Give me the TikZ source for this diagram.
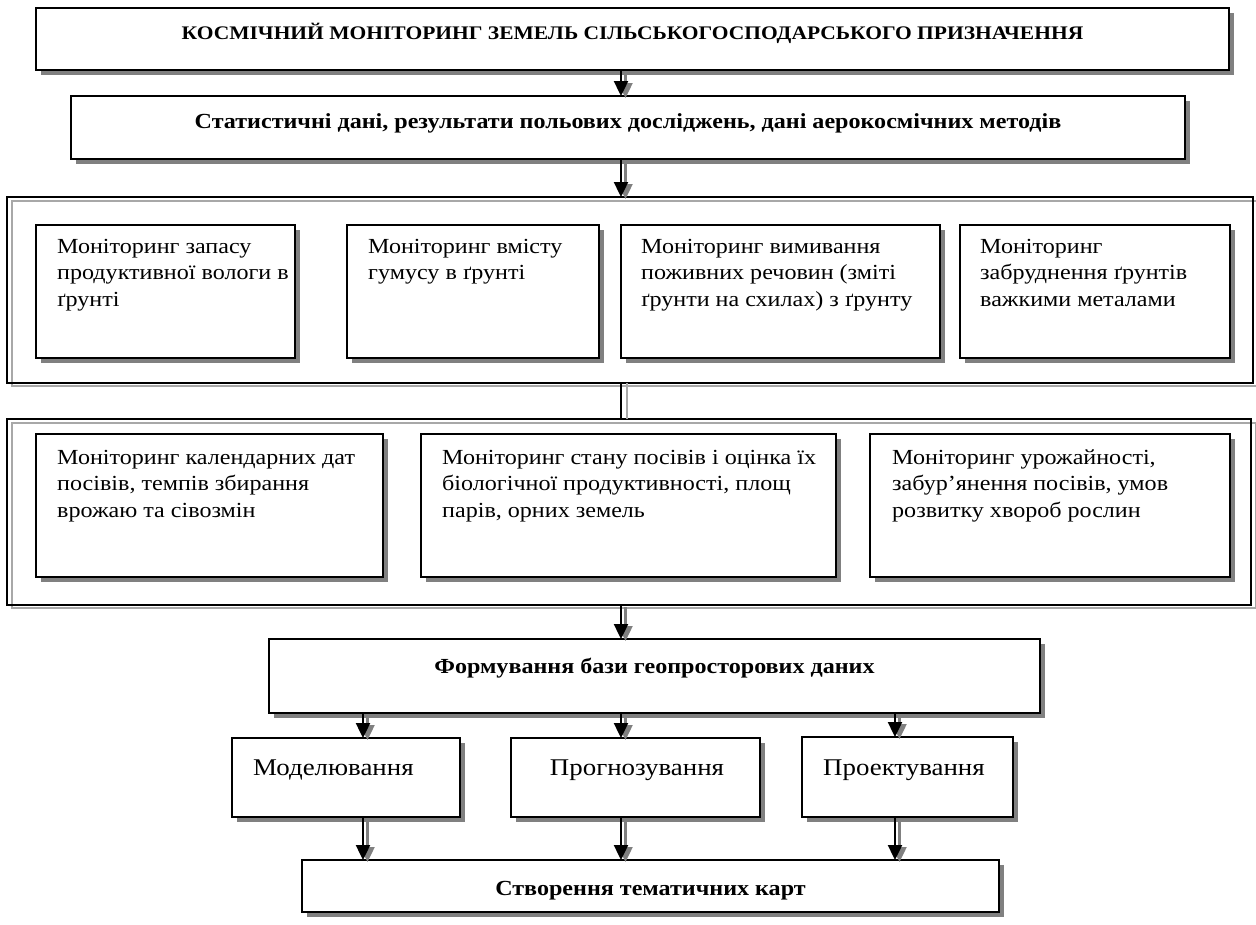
\documentclass[tikz,border=0pt]{standalone}
\usepackage{fontspec}
\setmainfont{Liberation Serif}[FakeStretch=1.12]
\usetikzlibrary{arrows.meta,shadows}
\definecolor{shgray}{HTML}{808080}
\definecolor{frgray}{HTML}{A8A8A8}
\newcommand\rmtxt{\fontsize{21.5}{26.5}\selectfont}
\newcommand\bigtxt{\fontsize{24}{28}\selectfont}
\newcommand\bftxt{\bfseries\fontsize{21.5}{26}\selectfont}
\newcommand\tttxt{\bfseries\fontsize{19.2}{24}\selectfont}
\newcommand\lines[1]{\begin{tabular}[t]{@{}l@{}}#1\end{tabular}}
\newcommand\mkbox[5]{\node[sbox, minimum width={(#4-#2)*1pt}, minimum height={(#5-#3)*1pt}] (#1) at (#2,#3) {};}
\newcommand\mkframe[5]{%
  \draw[frgray, line width=1.1pt] (#2+5,#3+4) rectangle (#4+5,#5+3);
  \node[frbox, minimum width={(#4-#2)*1pt}, minimum height={(#5-#3)*1pt}] (#1) at (#2,#3) {};}
\begin{document}
\begin{tikzpicture}[x=1pt,y=-1pt,
  sbox/.style={draw=black, line width=1.2pt, fill=white, anchor=north west, inner sep=0pt, outer sep=0pt,
    drop shadow={shadow xshift=4.5pt, shadow yshift=-4.5pt, opacity=1, fill=shgray}},
  frbox/.style={draw=black, line width=1.1pt, anchor=north west, inner sep=0pt, outer sep=0pt},
  rtext/.style={font=\rmtxt, inner sep=0pt, anchor=base west},
  btext/.style={font=\bftxt, inner sep=0pt, anchor=base},
  arr/.style={-{Triangle[width=14pt,length=15pt]}, line width=2.4pt, draw=black},
  arrsh/.style={arr, draw=shgray, transform canvas={shift={(4.5pt,-2pt)}}}
]
\useasboundingbox (0,0) rectangle (1256,924);
\coordinate (ax) at (621,0);
\coordinate (axl) at (363,0);
\coordinate (axr) at (895,0);

% boxes
\mkbox{top}{36}{8}{1229}{70}
\mkbox{sec}{71}{96}{1185}{159}
\mkframe{fr1}{7}{197}{1253}{383}
\mkbox{b1}{36}{225}{295}{358}
\mkbox{b2}{347}{225}{599}{358}
\mkbox{b3}{621}{225}{940}{358}
\mkbox{b4}{960}{225}{1230}{358}
\mkframe{fr2}{7}{419}{1251}{605}
\mkbox{c1}{36}{434}{383}{577}
\mkbox{c2}{421}{434}{836}{577}
\mkbox{c3}{870}{434}{1230}{577}
\mkbox{form}{269}{639}{1040}{713}
\mkbox{mod}{232}{738}{460}{817}
\mkbox{prog}{511}{738}{760}{817}
\mkbox{proj}{802}{737}{1013}{817}
\mkbox{cr}{302}{860}{999}{912}

% texts
\node[btext, font=\tttxt] (ttop) at ([shift={(0,31)}]top.north) {КОСМІЧНИЙ МОНІТОРИНГ ЗЕМЕЛЬ СІЛЬСЬКОГОСПОДАРСЬКОГО ПРИЗНАЧЕННЯ};
\node[btext] (tsec) at ([shift={(0,32)}]sec.north) {Статистичні дані, результати польових досліджень, дані аерокосмічних методів};
\node[rtext] (tb1) at ([shift={(21,28)}]b1.north west) {\lines{Моніторинг запасу\\продуктивної вологи в\\ґрунті}};
\node[rtext] (tb2) at ([shift={(21,28)}]b2.north west) {\lines{Моніторинг вмісту\\гумусу в ґрунті}};
\node[rtext] (tb3) at ([shift={(20,28)}]b3.north west) {\lines{Моніторинг вимивання\\поживних речовин (зміті\\ґрунти на схилах) з ґрунту}};
\node[rtext] (tb4) at ([shift={(20,28)}]b4.north west) {\lines{Моніторинг\\забруднення ґрунтів\\важкими металами}};
\node[rtext] (tc1) at ([shift={(21,30)}]c1.north west) {\lines{Моніторинг календарних дат\\посівів, темпів збирання\\врожаю та сівозмін}};
\node[rtext] (tc2) at ([shift={(21,30)}]c2.north west) {\lines{Моніторинг стану посівів і оцінка їх\\біологічної продуктивності, площ\\парів, орних земель}};
\node[rtext] (tc3) at ([shift={(22,30)}]c3.north west) {\lines{Моніторинг урожайності,\\забур’янення посівів, умов\\розвитку хвороб рослин}};
\node[btext] (tform) at ([shift={(0,34)}]form.north) {Формування бази геопросторових даних};
\node[rtext, font=\bigtxt] (tmod) at ([shift={(21,37)}]mod.north west) {Моделювання};
\node[rtext, font=\bigtxt, anchor=base] (tprog) at ([shift={(1.5,37)}]prog.north) {Прогнозування};
\node[rtext, font=\bigtxt] (tproj) at ([shift={(21,38)}]proj.north west) {Проектування};
\node[btext] (tcr) at ([shift={(0,35)}]cr.north) {Створення тематичних карт};

% connectors
\foreach \a/\b/\c in {top/sec/ax, sec/fr1/ax, fr2/form/ax, form/mod/axl, form/prog/ax, form/proj/axr, mod/cr/axl, prog/cr/ax, proj/cr/axr}{
  \draw[arrsh] (\a.south -| \c) -- (\b.north -| \c);
  \draw[arr] (\a.south -| \c) -- (\b.north -| \c);
}
\draw[frgray, line width=1.2pt] ([xshift=6pt]fr1.south -| ax) -- ([xshift=6pt]fr2.north -| ax);
\draw[black, line width=1.1pt] (fr1.south -| ax) -- (fr2.north -| ax);
\end{tikzpicture}
\end{document}
